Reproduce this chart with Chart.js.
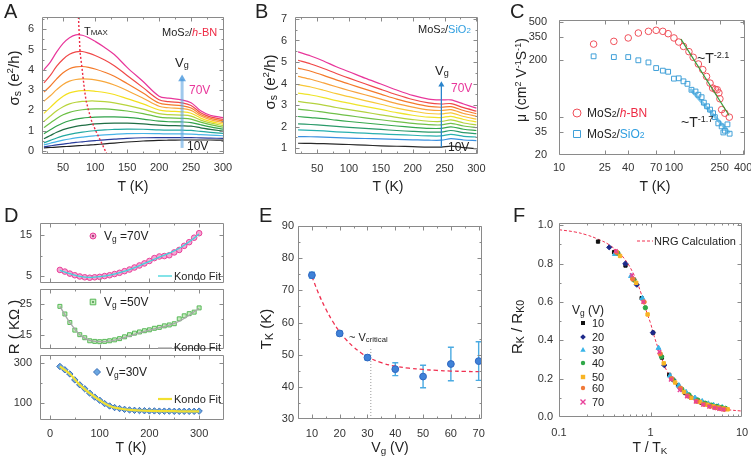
<!DOCTYPE html>
<html>
<head>
<meta charset="utf-8">
<title>MoS2 transport figure</title>
<script src="https://cdn.jsdelivr.net/npm/chart.js@4.4.1/dist/chart.umd.min.js"></script>
<style>
  body { margin: 0; background: #fff; font-family: 'Liberation Sans', Arial, sans-serif; color: #222; }
  #fig { position: relative; width: 751px; height: 462px; overflow: hidden; }
  #fig canvas { position: absolute; }
  .lbl { position: absolute; white-space: nowrap; line-height: 1; transform: translateY(-50%); font-size: 11px; }
  .ttl { position: absolute; white-space: nowrap; line-height: 1; font-size: 14px; transform: translate(-50%, -50%); }
  .ylab { position: absolute; white-space: nowrap; line-height: 1; font-size: 15px; transform: translate(-50%, -50%) rotate(-90deg); }
  .pan { position: absolute; line-height: 1; font-size: 20px; }
  .sm { font-size: 0.72em; }
  sub { font-size: 0.7em; vertical-align: -0.2em; line-height: 0; }
  sup { font-size: 0.65em; vertical-align: 0.55em; line-height: 0; }
  .mag { color: #e8369a; }
  .red { color: #ee2a44; }
  .blu { color: #2f9ee0; }
</style>
</head>
<body>
<div id="fig">
  <canvas id="chartA" width="240" height="200" style="left:0;top:0"></canvas>
  <canvas id="chartB" width="240" height="200" style="left:250px;top:0"></canvas>
  <canvas id="chartC" width="251" height="200" style="left:500px;top:0"></canvas>
  <canvas id="chartD1" width="240" height="73" style="left:0;top:215px"></canvas>
  <canvas id="chartD2" width="240" height="70" style="left:0;top:284px"></canvas>
  <canvas id="chartD3" width="240" height="95" style="left:0;top:350px"></canvas>
  <canvas id="chartE" width="240" height="230" style="left:250px;top:215px"></canvas>
  <canvas id="chartF" width="251" height="230" style="left:500px;top:215px"></canvas>

  <!-- panel letters -->
  <div class="pan" style="left:4px;top:1px">A</div>
  <div class="pan" style="left:255px;top:1px">B</div>
  <div class="pan" style="left:510px;top:1px">C</div>
  <div class="pan" style="left:4px;top:205px">D</div>
  <div class="pan" style="left:259px;top:205px">E</div>
  <div class="pan" style="left:513px;top:205px">F</div>

  <!-- axis titles -->
  <div class="ttl" style="left:133px;top:186px">T (K)</div>
  <div class="ttl" style="left:388px;top:186px">T (K)</div>
  <div class="ttl" style="left:655px;top:186px">T (K)</div>
  <div class="ttl" style="left:131px;top:447px">T (K)</div>
  <div class="ttl" style="left:390px;top:447px">V<sub>g</sub> (V)</div>
  <div class="ttl" style="left:650px;top:447px">T / T<sub>K</sub></div>
  <div class="ylab" style="left:13px;top:78px">σ<sub>s</sub> (e<sup>2</sup>/h)</div>
  <div class="ylab" style="left:269px;top:82px">σ<sub>s</sub> (e<sup>2</sup>/h)</div>
  <div class="ylab" style="left:521px;top:80px;font-size:14px">μ (cm<sup>2</sup> V<sup>-1</sup>S<sup>-1</sup>)</div>
  <div class="ylab" style="left:13px;top:327px">R ( KΩ )</div>
  <div class="ylab" style="left:265px;top:329px">T<sub>K</sub> (K)</div>
  <div class="ylab" style="left:516px;top:327px">R<sub>K</sub> / R<sub>K0</sub></div>

  <!-- panel A notes -->
  <div class="lbl" style="left:84px;top:31px">T<span class="sm">MAX</span></div>
  <div class="lbl" style="left:162px;top:32px">MoS<span class="sm">2</span>/<span class="red"><i>h</i>-BN</span></div>
  <div class="lbl" style="left:175px;top:62px;font-size:13px">V<sub>g</sub></div>
  <div class="lbl mag" style="left:189px;top:90px;font-size:12px">70V</div>
  <div class="lbl" style="left:187px;top:146px;font-size:12px">10V</div>

  <!-- panel B notes -->
  <div class="lbl" style="left:418px;top:29px">MoS<span class="sm">2</span>/<span class="blu">SiO<span class="sm">2</span></span></div>
  <div class="lbl" style="left:435px;top:70px;font-size:13px">V<sub>g</sub></div>
  <div class="lbl mag" style="left:451px;top:88px;font-size:12px">70V</div>
  <div class="lbl" style="left:448px;top:147px;font-size:12px">10V</div>

  <!-- panel C notes -->
  <div class="lbl" style="left:587px;top:113px;font-size:12px">MoS<span class="sm">2</span>/<span class="red"><i>h</i>-BN</span></div>
  <div class="lbl" style="left:587px;top:134px;font-size:12px">MoS<span class="sm">2</span>/<span class="blu">SiO<span class="sm">2</span></span></div>
  <div class="lbl" style="left:697px;top:58px;font-size:14px">~T<sup>-2.1</sup></div>
  <div class="lbl" style="left:681px;top:122px;font-size:14px">~T<sup>-1.7</sup></div>

  <!-- panel D notes -->
  <div class="lbl" style="left:104px;top:236px;font-size:12px">V<sub>g</sub> =70V</div>
  <div class="lbl" style="left:174px;top:276px">Kondo Fit</div>
  <div class="lbl" style="left:104px;top:302px;font-size:12px">V<sub>g</sub> =50V</div>
  <div class="lbl" style="left:174px;top:347px">Kondo Fit</div>
  <div class="lbl" style="left:106px;top:372px;font-size:12px">V<sub>g</sub>=30V</div>
  <div class="lbl" style="left:174px;top:399px">Kondo Fit</div>

  <!-- panel E notes -->
  <div class="lbl" style="left:349px;top:337px">~ V<sub>critical</sub></div>

  <!-- panel F notes -->
  <div class="lbl" style="left:654px;top:241px">NRG Calculation</div>
  <div class="lbl" style="left:572px;top:310px;font-size:12px">V<sub>g</sub> (V)</div>
  <div class="lbl" style="left:592px;top:323px">10</div>
  <div class="lbl" style="left:592px;top:337px">20</div>
  <div class="lbl" style="left:592px;top:350px">30</div>
  <div class="lbl" style="left:592px;top:363px">40</div>
  <div class="lbl" style="left:592px;top:377px">50</div>
  <div class="lbl" style="left:592px;top:388px">60</div>
  <div class="lbl" style="left:592px;top:402px">70</div>
</div>

<script>
// ---------- data ----------
// A: sheet conductance on h-BN, one curve per gate voltage (70V ... 10V)
const gateA = [70, 65, 60, 55, 50, 45, 40, 35, 30, 25, 20, 15, 10];
const tempA = [20, 30, 40, 50, 60, 70, 80, 90, 100, 115, 130, 150, 175, 200, 215, 235, 250, 265, 280, 300];
const sigmaHBN = [
    [4.00, 4.38, 4.88, 5.30, 5.58, 5.72, 5.70, 5.58, 5.40, 5.10, 4.75, 4.12, 3.42, 2.70, 2.60, 2.52, 2.38, 1.98, 1.76, 1.64],
    [3.35, 3.72, 4.18, 4.52, 4.76, 4.88, 4.90, 4.82, 4.70, 4.48, 4.20, 3.72, 3.12, 2.52, 2.43, 2.37, 2.24, 1.88, 1.68, 1.56],
    [2.90, 3.20, 3.55, 3.85, 4.05, 4.14, 4.16, 4.12, 4.04, 3.88, 3.68, 3.32, 2.85, 2.36, 2.28, 2.23, 2.12, 1.80, 1.61, 1.48],
    [2.45, 2.72, 3.02, 3.28, 3.44, 3.52, 3.55, 3.54, 3.50, 3.40, 3.25, 2.98, 2.60, 2.20, 2.13, 2.09, 2.00, 1.72, 1.54, 1.40],
    [1.85, 2.15, 2.45, 2.70, 2.86, 2.94, 2.97, 2.97, 2.94, 2.88, 2.78, 2.58, 2.32, 2.02, 1.96, 1.93, 1.86, 1.62, 1.46, 1.32],
    [1.45, 1.72, 1.98, 2.18, 2.32, 2.40, 2.44, 2.46, 2.46, 2.43, 2.37, 2.25, 2.06, 1.84, 1.79, 1.77, 1.72, 1.52, 1.38, 1.25],
    [1.15, 1.38, 1.60, 1.78, 1.90, 1.98, 2.03, 2.06, 2.07, 2.07, 2.04, 1.97, 1.84, 1.67, 1.63, 1.61, 1.57, 1.42, 1.30, 1.17],
    [0.85, 1.04, 1.23, 1.38, 1.49, 1.57, 1.62, 1.65, 1.67, 1.68, 1.68, 1.65, 1.57, 1.47, 1.44, 1.43, 1.40, 1.29, 1.19, 1.08],
    [0.60, 0.76, 0.92, 1.05, 1.14, 1.21, 1.26, 1.30, 1.33, 1.36, 1.37, 1.37, 1.33, 1.27, 1.25, 1.24, 1.22, 1.14, 1.06, 0.98],
    [0.40, 0.52, 0.64, 0.74, 0.82, 0.88, 0.93, 0.97, 1.00, 1.04, 1.06, 1.08, 1.07, 1.04, 1.03, 1.03, 1.01, 0.96, 0.92, 0.87],
    [0.30, 0.38, 0.46, 0.53, 0.59, 0.64, 0.68, 0.72, 0.75, 0.79, 0.82, 0.85, 0.86, 0.85, 0.84, 0.84, 0.83, 0.80, 0.78, 0.75],
    [0.20, 0.25, 0.30, 0.34, 0.38, 0.42, 0.45, 0.48, 0.51, 0.55, 0.58, 0.62, 0.65, 0.66, 0.66, 0.66, 0.66, 0.64, 0.63, 0.62],
    [0.15, 0.17, 0.19, 0.21, 0.23, 0.25, 0.27, 0.29, 0.31, 0.35, 0.39, 0.44, 0.49, 0.52, 0.53, 0.54, 0.54, 0.54, 0.54, 0.53]
];
const tmaxT = [74, 74.7, 76.5, 79.5, 81.6, 83.6, 85.9, 89.9, 94.4, 101, 108.6, 119];
const tmaxSigma = [6.6, 6.1, 4.85, 4.1, 3.5, 2.97, 2.48, 1.98, 1.49, 0.99, 0.5, -0.2];
const arrowAT = [236, 236];
const arrowASigma = [0.15, 3.55];

// B: sheet conductance on SiO2
const tempB = [20, 40, 60, 80, 100, 125, 150, 175, 200, 225, 245, 260, 280, 300];
const sigmaSiO2 = [
    [5.47, 5.28, 5.05, 4.78, 4.55, 4.25, 3.98, 3.70, 3.45, 3.28, 3.24, 3.24, 3.05, 2.86],
    [5.08, 4.91, 4.70, 4.47, 4.25, 3.99, 3.73, 3.48, 3.26, 3.10, 3.05, 3.07, 2.88, 2.72],
    [4.72, 4.57, 4.38, 4.17, 3.98, 3.74, 3.51, 3.28, 3.09, 2.94, 2.90, 2.93, 2.75, 2.60],
    [4.33, 4.20, 4.03, 3.85, 3.68, 3.48, 3.28, 3.07, 2.91, 2.78, 2.75, 2.79, 2.61, 2.48],
    [3.95, 3.84, 3.69, 3.53, 3.39, 3.21, 3.04, 2.86, 2.72, 2.61, 2.59, 2.64, 2.47, 2.35],
    [3.56, 3.47, 3.35, 3.21, 3.09, 2.94, 2.80, 2.65, 2.53, 2.44, 2.42, 2.48, 2.33, 2.22],
    [3.17, 3.09, 3.00, 2.89, 2.79, 2.67, 2.55, 2.43, 2.33, 2.25, 2.24, 2.31, 2.17, 2.08],
    [2.81, 2.75, 2.67, 2.59, 2.51, 2.41, 2.32, 2.23, 2.15, 2.09, 2.08, 2.15, 2.03, 1.95],
    [2.47, 2.42, 2.37, 2.30, 2.24, 2.17, 2.10, 2.03, 1.97, 1.92, 1.92, 1.99, 1.88, 1.82],
    [2.13, 2.10, 2.06, 2.01, 1.97, 1.92, 1.87, 1.82, 1.78, 1.75, 1.75, 1.82, 1.72, 1.68],
    [1.85, 1.83, 1.80, 1.76, 1.73, 1.70, 1.66, 1.63, 1.60, 1.57, 1.57, 1.64, 1.55, 1.52],
    [1.54, 1.53, 1.51, 1.49, 1.47, 1.45, 1.43, 1.41, 1.39, 1.37, 1.37, 1.44, 1.38, 1.35],
    [1.23, 1.22, 1.21, 1.19, 1.17, 1.14, 1.11, 1.09, 1.07, 1.05, 1.05, 1.10, 1.03, 0.98]
];
const arrowBT = [245, 245];
const arrowBSigma = [1.05, 3.95];

// C: mobility vs temperature
const tempHBN = [20, 30, 40, 49, 60, 70, 80, 89, 100, 110, 121, 135, 147, 163, 178, 192, 206, 217, 229, 238, 246, 251, 260, 277, 303];
const muHBN = [293, 313, 340, 383, 399, 409, 399, 377, 340, 308, 277, 244, 213, 181, 158, 134, 114, 101, 98, 97, 90, 78, 60, 55, 50];
const tempSiO2 = [20, 30, 40, 49, 60, 70, 80, 89, 100, 110, 121, 131, 142, 154, 163, 174, 182, 194, 206, 219, 227, 243, 260, 269, 277, 292, 305];
const muSiO2 = [218, 214, 214, 198, 188, 164, 154, 150, 127, 128, 119, 112, 97, 93, 86, 81, 71, 65, 60, 55, 50, 43, 40, 34.5, 36, 42, 33.5];
const fitHBNT = [115, 302];
const fitHBNMu = [330, 52];
const fitSiO2T = [138, 305];
const fitSiO2Mu = [99, 34];

// D: resistance with Kondo fits
const tempD = [20, 30, 40, 50, 60, 70, 80, 90, 100, 110, 120, 130, 140, 150, 160, 170, 180, 190, 200, 210, 220, 230, 240, 250, 260, 270, 280, 290, 300];
const res70 = [6.5, 6.1, 5.6, 5.2, 4.9, 4.7, 4.6, 4.7, 4.8, 5.0, 5.2, 5.5, 5.8, 6.2, 6.6, 7.1, 7.6, 8.1, 8.7, 9.4, 9.8, 9.9, 10.1, 10.8, 11.4, 12.4, 13.3, 14.4, 15.5];
const res50 = [24.3, 21.8, 19.0, 16.5, 15.0, 14.0, 13.0, 12.8, 12.7, 12.8, 13.0, 13.3, 13.7, 14.3, 15.0, 15.5, 15.9, 16.3, 16.6, 17.1, 17.4, 17.9, 18.2, 18.6, 20.2, 21.2, 21.9, 22.4, 23.8];
const res30 = [283, 266, 245, 215, 190, 170, 148, 128, 112, 95, 83, 75, 70, 66, 63, 61, 60, 59, 58, 58, 57, 57, 57, 56, 56, 56, 56, 56, 57];
const fitTD = [20, 40, 60, 80, 100, 120, 140, 160, 180, 200, 220, 240, 260, 280, 300];
const fit70 = [6.4, 5.6, 4.95, 4.7, 4.85, 5.25, 5.85, 6.6, 7.55, 8.6, 9.65, 10.6, 11.8, 13.4, 15.3];
const fit50 = [24.3, 19.0, 15.0, 13.1, 12.7, 12.9, 13.6, 14.6, 15.6, 16.5, 17.3, 18.1, 19.4, 21.4, 23.7];
const fit30 = [283, 245, 190, 148, 112, 83, 70, 63, 60, 58, 57, 57, 56, 56, 56];

// E: Kondo temperature vs gate voltage
const gateE = [10, 20, 30, 40, 50, 60, 70];
const tkE = [74.7, 56.6, 49.1, 45.5, 43.2, 47.1, 48.0];
const tkErr = [0.9, 0.7, 0.8, 2.0, 3.5, 5.2, 6.0];
const fitGateE = [10, 12.5, 15, 17.5, 20, 22.5, 25, 27.5, 30, 35, 40, 45, 50, 55, 60, 65, 70];
const fitTkE = [74.3, 68.8, 64.2, 60.3, 57.1, 54.5, 52.4, 50.7, 49.3, 47.5, 46.4, 45.8, 45.4, 45.1, 44.9, 44.8, 44.7];
const critGate = [31.2, 31.2];
const critTk = [30, 52];

// F: scaled resistance, x = T/TK
const scaled10X = [0.267, 0.4, 0.533, 0.8, 1.067, 1.333, 1.6, 2.0, 2.4, 2.8, 3.2, 3.6, 4.0];
const scaled10Y = [0.915, 0.86, 0.79, 0.62, 0.44, 0.31, 0.22, 0.165, 0.125, 0.1, 0.085, 0.075, 0.068];
const scaled20X = [0.354, 0.531, 0.708, 1.062, 1.416, 1.77, 2.124, 2.655, 3.186, 3.717, 4.248, 4.779, 5.31];
const scaled20Y = [0.885, 0.80, 0.69, 0.44, 0.27, 0.195, 0.15, 0.11, 0.09, 0.075, 0.065, 0.058, 0.052];
const scaled30X = [0.408, 0.612, 0.816, 1.224, 1.633, 2.041, 2.449, 3.061, 3.673, 4.286, 4.898, 5.51, 6.122];
const scaled30Y = [0.85, 0.735, 0.62, 0.36, 0.215, 0.165, 0.13, 0.1, 0.082, 0.07, 0.062, 0.056, 0.05];
const scaled40X = [0.44, 0.659, 0.879, 1.319, 1.758, 2.198, 2.637, 3.297, 3.956, 4.615, 5.275, 5.934, 6.593];
const scaled40Y = [0.855, 0.715, 0.57, 0.315, 0.195, 0.145, 0.115, 0.088, 0.072, 0.062, 0.055, 0.05, 0.045];
const scaled50X = [0.465, 0.698, 0.93, 1.395, 1.86, 2.326, 2.791, 3.488, 4.186, 4.884, 5.581, 6.279, 6.977];
const scaled50Y = [0.84, 0.70, 0.535, 0.28, 0.18, 0.13, 0.1, 0.078, 0.064, 0.055, 0.049, 0.044, 0.04];
const scaled60X = [0.426, 0.638, 0.851, 1.277, 1.702, 2.128, 2.553, 3.191, 3.83, 4.468, 5.106, 5.745, 6.383];
const scaled60Y = [0.86, 0.72, 0.6, 0.33, 0.2, 0.15, 0.11, 0.082, 0.066, 0.056, 0.049, 0.044, 0.04];
const scaled70X = [0.417, 0.625, 0.833, 1.25, 1.667, 2.083, 2.5, 3.125, 3.75, 4.375, 5.0, 5.625, 6.25];
const scaled70Y = [0.865, 0.74, 0.6, 0.34, 0.195, 0.14, 0.108, 0.08, 0.064, 0.054, 0.047, 0.042, 0.038];
const nrgX = [0.1, 0.15, 0.2, 0.26, 0.36, 0.5, 0.65, 0.78, 0.92, 1.0, 1.09, 1.29, 1.5, 1.94, 2.5, 3.5, 5.3, 7, 10];
const nrgY = [0.977, 0.965, 0.95, 0.93, 0.896, 0.835, 0.748, 0.652, 0.539, 0.49, 0.426, 0.322, 0.243, 0.165, 0.113, 0.07, 0.047, 0.038, 0.031];

// tick labels
const ticksAX = [50, 100, 150, 200, 250, 300];
const ticksAY = [0, 1, 2, 3, 4, 5, 6];
const ticksBY = [1, 2, 3, 4, 5, 6, 7];
const ticksCX = [10, 25, 40, 70, 100, 250, 400];
const ticksCY = [20, 35, 50, 200, 350, 500];
const ticksDX = [0, 100, 200, 300];
const ticksD1Y = [5, 15];
const ticksD2Y = [15, 25];
const ticksD3Y = [100, 300];
const ticksEX = [10, 20, 30, 40, 50, 60, 70];
const ticksEY = [30, 40, 50, 60, 70, 80, 90];
const ticksFX = [0.1, 1, 10];
const ticksFY = [0, 0.2, 0.4, 0.6, 0.8, 1.0];
const minorFX = [0.2, 0.3, 0.4, 0.5, 0.6, 0.7, 0.8, 0.9, 2, 3, 4, 5, 6, 7, 8, 9];

// ---------- styling ----------
const colorsA = ['#e8369a', '#f04848', '#f47a2a', '#f8a83c', '#f4e020', '#b8d43c', '#6cc044', '#30a24a', '#1f6e44', '#22a8a0', '#48b4e8', '#283c9c', '#202020'];
const colorsB = ['#e8369a', '#f04848', '#f47a2a', '#f8a23c', '#f8c838', '#eee42a', '#b4d23e', '#70c048', '#36a84e', '#2a9a6a', '#28b0b0', '#3a90e0', '#2a2a2a'];

// legend swatches and minor ticks, keyed by canvas id (canvas pixels)
const decor = {
    chartC: {
        minor: { x: [], y: [] },
        marks: [
            { style: 'circle', x: 77, y: 113, r: 4, stroke: '#f0505a' },
            { style: 'rect', x: 77, y: 134, r: 3.5, stroke: '#40a0d8' }
        ]
    },
    chartD1: {
        marks: [
            { style: 'circle', x: 93, y: 21, r: 3, stroke: '#e8409a', fill: '#f4a6d2' },
            { style: 'circle', x: 93, y: 21, r: 0.9, fill: '#7a2050' },
            { line: [158, 61, 172, 61], stroke: '#40d4dc', lw: 1.3 }
        ]
    },
    chartD2: {
        marks: [
            { style: 'rect', x: 93, y: 18, r: 2.8, stroke: '#58b858', fill: '#c8ecc0' },
            { style: 'rect', x: 93, y: 18, r: 0.8, fill: '#2c7a2c' },
            { line: [158, 64, 172, 64], stroke: '#a8a8a8', lw: 1.3 }
        ]
    },
    chartD3: {
        marks: [
            { style: 'rectRot', x: 97, y: 22, r: 3.5, stroke: '#3a70b8', fill: '#6aa6e0' },
            { line: [158, 49, 172, 49], stroke: '#f2e030', lw: 2.2 }
        ]
    },
    chartF: {
        minor: { x: minorFX },
        marks: [
            { line: [137, 26, 153, 26], stroke: '#f03050', lw: 1, dash: [3, 2] },
            { style: 'rect', x: 83, y: 108, r: 2, fill: '#111111' },
            { style: 'rectRot', x: 83, y: 122, r: 2.8, fill: '#1e2a8a' },
            { style: 'triangle', x: 83, y: 135, r: 3, fill: '#38b4e8' },
            { style: 'circle', x: 83, y: 148, r: 2.2, fill: '#30a848' },
            { style: 'rect', x: 83, y: 162, r: 2.2, fill: '#f8b424' },
            { style: 'circle', x: 83, y: 173, r: 2.2, fill: '#f07a3a' },
            { style: 'crossRot', x: 83, y: 187, r: 2.5, stroke: '#e8409a', lw: 1.4 }
        ]
    }
};

Chart.defaults.font.family = "'Liberation Sans', Arial, sans-serif";
Chart.defaults.font.size = 11;
Chart.defaults.color = '#333';

function pts(xs, ys) {
    return xs.map((x, i) => ({ x: x, y: ys[i] }));
}

function halfSteps(major, min, max) {
    if (major.length < 2) return [];
    const step = (major[1] - major[0]) / 2;
    const out = [];
    for (let v = major[0] - step; v <= max + 1e-9; v += 2 * step) {
        if (v >= min - 1e-9) out.push(v);
    }
    return out;
}

// box around the plot area with inward ticks on all four sides
const framePlugin = {
    id: 'frame',
    afterDatasetsDraw(chart) {
        const ctx = chart.ctx;
        const a = chart.chartArea;
        const d = decor[chart.canvas.id] || {};
        const L = Math.round(a.left) + 0.5, R = Math.round(a.right) - 0.5;
        const T = Math.round(a.top) + 0.5, B = Math.round(a.bottom) - 0.5;
        ctx.save();
        ctx.strokeStyle = '#8a8a8a';
        ctx.lineWidth = 1;
        ctx.beginPath();
        ctx.rect(L, T, R - L, B - T);
        Object.values(chart.scales).forEach(s => {
            const major = s.ticks.map(t => t.value);
            const minor = (d.minor && d.minor[s.id]) || halfSteps(major, s.min, s.max);
            const put = (v, len) => {
                const p = Math.round(s.getPixelForValue(v)) + 0.5;
                if (s.isHorizontal()) {
                    if (p < L || p > R) return;
                    ctx.moveTo(p, B); ctx.lineTo(p, B - len);
                    ctx.moveTo(p, T); ctx.lineTo(p, T + len);
                } else {
                    if (p < T || p > B) return;
                    ctx.moveTo(L, p); ctx.lineTo(L + len, p);
                    ctx.moveTo(R, p); ctx.lineTo(R - len, p);
                }
            };
            major.forEach(v => put(v, 4));
            minor.forEach(v => put(v, 2));
        });
        ctx.stroke();
        ctx.restore();
    }
};

function drawMark(ctx, m) {
    const x = m.x, y = m.y, r = m.r || 3;
    ctx.save();
    ctx.beginPath();
    if (m.line) {
        ctx.setLineDash(m.dash || []);
        ctx.moveTo(m.line[0], m.line[1]);
        ctx.lineTo(m.line[2], m.line[3]);
    } else if (m.style === 'circle') {
        ctx.arc(x, y, r, 0, Math.PI * 2);
    } else if (m.style === 'rect') {
        ctx.rect(x - r, y - r, 2 * r, 2 * r);
    } else if (m.style === 'rectRot') {
        ctx.moveTo(x, y - r); ctx.lineTo(x + r, y); ctx.lineTo(x, y + r); ctx.lineTo(x - r, y); ctx.closePath();
    } else if (m.style === 'triangle') {
        ctx.moveTo(x, y - r); ctx.lineTo(x + r * 0.9, y + r * 0.6); ctx.lineTo(x - r * 0.9, y + r * 0.6); ctx.closePath();
    } else if (m.style === 'crossRot') {
        ctx.moveTo(x - r, y - r); ctx.lineTo(x + r, y + r);
        ctx.moveTo(x + r, y - r); ctx.lineTo(x - r, y + r);
    }
    if (m.fill) { ctx.fillStyle = m.fill; ctx.fill(); }
    if (m.stroke) { ctx.strokeStyle = m.stroke; ctx.lineWidth = m.lw || 1; ctx.stroke(); }
    ctx.restore();
}

// legend swatches drawn on the canvas
const marksPlugin = {
    id: 'marks',
    afterDraw(chart) {
        const d = decor[chart.canvas.id];
        if (d && d.marks) d.marks.forEach(m => drawMark(chart.ctx, m));
    }
};

// vertical error bars read from dataset.errors
const errorBarPlugin = {
    id: 'errorBars',
    beforeDatasetsDraw(chart) {
        const ctx = chart.ctx;
        chart.data.datasets.forEach((ds, i) => {
            if (!ds.errors) return;
            const meta = chart.getDatasetMeta(i);
            const ys = chart.scales[meta.yAxisID];
            ctx.save();
            ctx.strokeStyle = ds.errorColor || '#4aa8e0';
            ctx.lineWidth = 1.4;
            ctx.beginPath();
            meta.data.forEach((pt, j) => {
                const v = ds.data[j].y, e = ds.errors[j];
                const top = ys.getPixelForValue(v + e), bot = ys.getPixelForValue(v - e);
                ctx.moveTo(pt.x, top); ctx.lineTo(pt.x, bot);
                ctx.moveTo(pt.x - 3, top); ctx.lineTo(pt.x + 3, top);
                ctx.moveTo(pt.x - 3, bot); ctx.lineTo(pt.x + 3, bot);
            });
            ctx.stroke();
            ctx.restore();
        });
    }
};

function axis(o) {
    return {
        type: o.type || 'linear',
        min: o.min,
        max: o.max,
        grid: { display: false, drawTicks: false },
        border: { display: false },
        ticks: {
            display: !o.hide,
            padding: o.pad,
            autoSkip: false,
            maxRotation: 0,
            color: '#333',
            font: { size: 11 },
            callback: o.fmt || (v => String(v))
        },
        afterBuildTicks: s => { s.ticks = o.ticks.map(v => ({ value: v })); },
        afterFit: s => {
            if (s.isHorizontal()) s.height = o.size; else s.width = o.size;
            s.paddingLeft = 0; s.paddingRight = 0; s.paddingTop = 0; s.paddingBottom = 0;
        }
    };
}

function makeChart(id, datasets, xAxis, yAxis, pad) {
    return new Chart(document.getElementById(id), {
        type: 'scatter',
        data: { datasets: datasets },
        options: {
            responsive: false,
            animation: false,
            events: [],
            layout: { padding: { left: 0, right: pad.right, top: pad.top, bottom: 0 } },
            plugins: { legend: { display: false }, tooltip: { enabled: false } },
            scales: { x: xAxis, y: yAxis }
        },
        plugins: [errorBarPlugin, framePlugin, marksPlugin]
    });
}

function line(xs, ys, color, width, extra) {
    return Object.assign({ data: pts(xs, ys), showLine: true, borderColor: color, borderWidth: width, pointRadius: 0, fill: false }, extra || {});
}

function scatter(xs, ys, style, r, stroke, fill, extra) {
    return Object.assign({ data: pts(xs, ys), showLine: false, pointStyle: style, pointRadius: r, borderColor: stroke, backgroundColor: fill, pointBorderWidth: 1 }, extra || {});
}

// ---------- A ----------
makeChart('chartA', [
    line(tmaxT, tmaxSigma, '#ee2a44', 1.4, { borderDash: [2, 2] }),
    line(arrowAT, arrowASigma, 'rgba(95,165,225,0.6)', 3, { pointRadius: [0, 4.5], pointStyle: 'triangle', pointBackgroundColor: 'rgba(70,150,220,0.8)', pointBorderWidth: 0 }),
    ...gateA.map((v, i) => line(tempA, sigmaHBN[i], colorsA[i], 1.2, { tension: 0.35 }))
], axis({ min: 17, max: 301.5, ticks: ticksAX, size: 46, pad: 7 }),
   axis({ min: -0.15, max: 6.6, ticks: ticksAY, size: 42, pad: 8 }),
   { right: 16, top: 17 });

// ---------- B ----------
makeChart('chartB', [
    line(arrowBT, arrowBSigma, '#2a84cc', 1.3, { pointRadius: [0, 3.5], pointStyle: 'triangle', pointBackgroundColor: '#2a84cc', pointBorderWidth: 0 }),
    ...gateA.map((v, i) => line(tempB, sigmaSiO2[i], colorsB[i], 1.2, { tension: 0.3 }))
], axis({ min: 15.2, max: 302.5, ticks: ticksAX, size: 46, pad: 8 }),
   axis({ min: 0.73, max: 7.09, ticks: ticksBY, size: 45, pad: 8 }),
   { right: 12, top: 17 });

// ---------- C ----------
makeChart('chartC', [
    line(fitHBNT, fitHBNMu, '#3a9a3a', 1.2),
    scatter(tempHBN, muHBN, 'circle', 3.3, '#f0505a', 'rgba(0,0,0,0)'),
    scatter(tempSiO2, muSiO2, 'rect', 3.4, '#40a0d8', 'rgba(0,0,0,0)'),
    line(fitSiO2T, fitSiO2Mu, '#80c8ec', 3)
], axis({ type: 'logarithmic', min: 10, max: 415, ticks: ticksCX, size: 45, pad: 6 }),
   axis({ type: 'logarithmic', min: 20, max: 525, ticks: ticksCY, size: 59, pad: 12 }),
   { right: 6, top: 20 });

// ---------- D (three stacked panels) ----------
makeChart('chartD1', [
    line(fitTD, fit70, '#40d4dc', 1.3, { tension: 0.4 }),
    scatter(tempD, res70, 'circle', 2.8, '#e8409a', '#f4a6d2')
], axis({ min: -20, max: 350, ticks: ticksDX, size: 0, pad: 0, hide: true }),
   axis({ min: 3.3, max: 18, ticks: ticksD1Y, size: 40, pad: 8 }),
   { right: 16, top: 8 });

makeChart('chartD2', [
    line(fitTD, fit50, '#a8a8a8', 1.3, { tension: 0.4 }),
    scatter(tempD, res50, 'rect', 2.8, '#58b858', '#c8ecc0')
], axis({ min: -20, max: 350, ticks: ticksDX, size: 0, pad: 0, hide: true }),
   axis({ min: 10.3, max: 30, ticks: ticksD2Y, size: 40, pad: 8 }),
   { right: 16, top: 4 });

makeChart('chartD3', [
    line(fitTD, fit30, '#f2e030', 2.2, { tension: 0.4 }),
    scatter(tempD, res30, 'rectRot', 3.2, '#3a70b8', '#6aa6e0')
], axis({ min: -20, max: 350, ticks: ticksDX, size: 25, pad: 7 }),
   axis({ min: 12, max: 341, ticks: ticksD3Y, size: 40, pad: 8 }),
   { right: 16, top: 4 });

// ---------- E ----------
makeChart('chartE', [
    scatter(gateE, tkE, 'circle', 3.4, '#2f66c0', '#3f82d8', { errors: tkErr, errorColor: '#4aaae2' }),
    line(fitGateE, fitTkE, '#f03050', 1.3, { borderDash: [4, 3], tension: 0.4 }),
    line(critGate, critTk, '#999999', 1, { borderDash: [1, 2] })
], axis({ min: 5, max: 71.2, ticks: ticksEX, size: 26, pad: 8 }),
   axis({ min: 30, max: 90, ticks: ticksEY, size: 48, pad: 4 }),
   { right: 8, top: 11 });

// ---------- F ----------
makeChart('chartF', [
    scatter(scaled70X, scaled70Y, 'crossRot', 2.6, '#e8409a', '#e8409a', { pointBorderWidth: 1.4 }),
    scatter(scaled60X, scaled60Y, 'circle', 2.2, '#f07a3a', '#f07a3a'),
    scatter(scaled50X, scaled50Y, 'rect', 2.4, '#f8b424', '#f8b424'),
    scatter(scaled40X, scaled40Y, 'circle', 2.2, '#30a848', '#30a848'),
    scatter(scaled30X, scaled30Y, 'triangle', 2.8, '#38b4e8', '#38b4e8'),
    scatter(scaled20X, scaled20Y, 'rectRot', 2.6, '#1e2a8a', '#1e2a8a'),
    scatter(scaled10X, scaled10Y, 'rect', 2.3, '#111111', '#111111'),
    line(nrgX, nrgY, '#f03050', 1, { borderDash: [3, 2], tension: 0.4 })
], axis({ type: 'logarithmic', min: 0.1, max: 10, ticks: ticksFX, size: 28, pad: 9 }),
   axis({ min: 0, max: 1.012, ticks: ticksFY, size: 59, pad: 6, fmt: v => v.toFixed(1) }),
   { right: 9, top: 8 });
</script>
</body>
</html>
